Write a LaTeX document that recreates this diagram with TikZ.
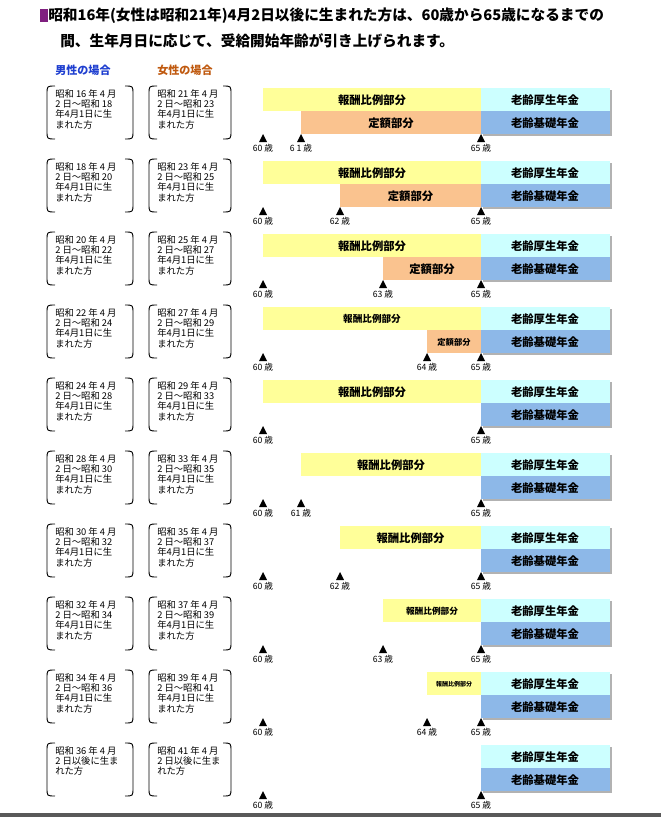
\documentclass[tikz,border=0pt]{standalone}
\usepackage{fontspec}
\setmainfont{Noto Sans CJK JP}
\definecolor{colYel}{HTML}{FFFF99}
\definecolor{colOra}{HTML}{FAC38F}
\definecolor{colCya}{HTML}{CCFFFF}
\definecolor{colBlu}{HTML}{8DB8E8}
\definecolor{colTtl}{HTML}{7F1F7F}
\definecolor{colMen}{HTML}{1F3FD0}
\definecolor{colWom}{HTML}{C05A10}
\tikzset{
  lbl/.style={font=\fontsize{8.5}{9}\selectfont\bfseries, inner sep=0pt},
  agel/.style={font=\fontsize{6.5}{7}\selectfont, inner sep=0pt, anchor=north},
  lt/.style={font=\fontsize{7}{7.8}\selectfont, align=left, anchor=north west, inner sep=0pt},
  brk/.style={line width=0.7pt}
}
\newcommand\ax[1]{\ifcase\numexpr#1-60\relax 263\or 301\or 340\or 383\or 427\or 481\fi}
\newcommand\brkbox[4]{% x1 x2 top text
  \draw[brk] (#1+8,#3) .. controls (#1,#3) and (#1,#3) .. (#1,#3+8) -- (#1,#3+45) .. controls (#1,#3+53) and (#1,#3+53) .. (#1+8,#3+53);
  \draw[brk] (#2-8,#3) .. controls (#2,#3) and (#2,#3) .. (#2,#3+8) -- (#2,#3+45) .. controls (#2,#3+53) and (#2,#3+53) .. (#2-8,#3+53);
  \node[lt] at (#1+8,#3+3) {#4};
}
\newcommand\tick[3]{% x top label
  \fill (#1,#2+46) -- (#1-4,#2+54) -- (#1+4,#2+54) -- cycle;
  \node[agel] at (#1,#2+56) {#3};
}
\newcommand\rowdraw[8]{%
  \brkbox{47}{133}{#1-2}{#4}
  \brkbox{149}{231}{#1-2}{#5}
  \ifnum#2>0
    \fill[colYel] (\ax{#2},#1) rectangle (481,#1+23);
    \node[inner sep=0pt,font=\fontsize{#6}{#6}\selectfont\bfseries] at ({(\ax{#2}+481)/2},#1+12) {報酬比例部分};
  \fi
  \ifnum#3>0
    \fill[colOra] (\ax{#3},#1+23) rectangle (481,#1+46);
    \node[inner sep=0pt,font=\fontsize{#7}{#7}\selectfont\bfseries] at ({(\ax{#3}+481)/2},#1+35) {定額部分};
  \fi
  \fill[gray!60] (483,#1+2) rectangle (612,#1+48);
  \fill[colCya] (481,#1) rectangle (610,#1+23);
  \fill[colBlu] (481,#1+23) rectangle (610,#1+46);
  \node[lbl] at (545,#1+12) {老齢厚生年金};
  \node[lbl] at (545,#1+35) {老齢基礎年金};
  \tick{263}{#1}{60 歳}
  \tick{481}{#1}{65 歳}
}
\begin{document}
\begin{tikzpicture}[x=0.75pt,y=-0.75pt]
\useasboundingbox (0,0) rectangle (661,817);
\fill[white] (0,0) rectangle (661,817);
\fill[colTtl] (40,9) rectangle (48,22);
\node[anchor=west,inner sep=0pt,font=\fontsize{11}{12}\selectfont\bfseries] (t1) at (48,16) {昭和16年(女性は昭和21年)4月2日以後に生まれた方は、60歳から65歳になるまでの};
\node[anchor=west,inner sep=0pt,font=\fontsize{11}{12}\selectfont\bfseries] (t2) at (60,41) {間、生年月日に応じて、受給開始年齢が引き上げられます。};
\node[anchor=west,inner sep=0pt,font=\fontsize{8.3}{9}\selectfont\bfseries,text=colMen] (m) at (55,70) {男性の場合};
\node[anchor=west,inner sep=0pt,font=\fontsize{8.3}{9}\selectfont\bfseries,text=colWom] (w) at (157,70) {女性の場合};

\rowdraw{88}{60}{61}{昭和 16 年 4 月\\2 日～昭和 18\\年4月1日に生\\まれた方}{昭和 21 年 4 月\\2 日～昭和 23\\年4月1日に生\\まれた方}{8.5}{8.5}{}
\tick{\ax{61}}{88}{6 1 歳}
\rowdraw{161}{60}{62}{昭和 18 年 4 月\\2 日～昭和 20\\年4月1日に生\\まれた方}{昭和 23 年 4 月\\2 日～昭和 25\\年4月1日に生\\まれた方}{8.5}{8.5}{}
\tick{\ax{62}}{161}{62 歳}
\rowdraw{234}{60}{63}{昭和 20 年 4 月\\2 日～昭和 22\\年4月1日に生\\まれた方}{昭和 25 年 4 月\\2 日～昭和 27\\年4月1日に生\\まれた方}{8.5}{8.5}{}
\tick{\ax{63}}{234}{63 歳}
\rowdraw{307}{60}{64}{昭和 22 年 4 月\\2 日～昭和 24\\年4月1日に生\\まれた方}{昭和 27 年 4 月\\2 日～昭和 29\\年4月1日に生\\まれた方}{7.2}{6.2}{}
\tick{\ax{64}}{307}{64 歳}
\rowdraw{380}{60}{0}{昭和 24 年 4 月\\2 日～昭和 28\\年4月1日に生\\まれた方}{昭和 29 年 4 月\\2 日～昭和 33\\年4月1日に生\\まれた方}{8.5}{8.5}{}
\rowdraw{453}{61}{0}{昭和 28 年 4 月\\2 日～昭和 30\\年4月1日に生\\まれた方}{昭和 33 年 4 月\\2 日～昭和 35\\年4月1日に生\\まれた方}{8.5}{8.5}{}
\tick{\ax{61}}{453}{61 歳}
\rowdraw{526}{62}{0}{昭和 30 年 4 月\\2 日～昭和 32\\年4月1日に生\\まれた方}{昭和 35 年 4 月\\2 日～昭和 37\\年4月1日に生\\まれた方}{8.5}{8.5}{}
\tick{\ax{62}}{526}{62 歳}
\rowdraw{599}{63}{0}{昭和 32 年 4 月\\2 日～昭和 34\\年4月1日に生\\まれた方}{昭和 37 年 4 月\\2 日～昭和 39\\年4月1日に生\\まれた方}{6.5}{8.5}{}
\tick{\ax{63}}{599}{63 歳}
\rowdraw{672}{64}{0}{昭和 34 年 4 月\\2 日～昭和 36\\年4月1日に生\\まれた方}{昭和 39 年 4 月\\2 日～昭和 41\\年4月1日に生\\まれた方}{4.5}{8.5}{}
\tick{\ax{64}}{672}{64 歳}
\rowdraw{745}{0}{0}{昭和 36 年 4 月\\2 日以後に生ま\\れた方}{昭和 41 年 4 月\\2 日以後に生ま\\れた方}{8.5}{8.5}{}
\fill[gray!70!black] (0,813) rectangle (661,817);
\end{tikzpicture}
\end{document}
